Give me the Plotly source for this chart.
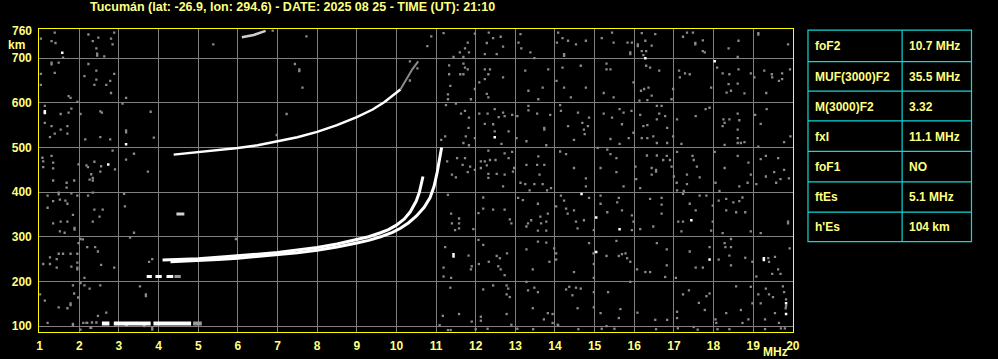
import plotly.graph_objects as go

# ---------------- data ----------------
title_text = "Tucumán (lat: -26.9, lon: 294.6) - DATE: 2025 08 25 - TIME (UT): 21:10"
x_ticks = list(range(1, 21))
y_ticks = [100, 200, 300, 400, 500, 600, 700]
y_top_label = 760

param_names = ["foF2", "MUF(3000)F2", "M(3000)F2", "fxI", "foF1", "ftEs", "h'Es"]
param_values = ["10.7 MHz", "35.5 MHz", "3.32", "11.1 MHz", "NO", "5.1 MHz", "104 km"]

# F2 ordinary trace
o_f = [4.1, 4.5, 5.0, 5.5, 6.0, 6.5, 7.0, 7.5, 8.0, 8.5, 9.0, 9.3, 9.6, 9.8, 10.0, 10.2, 10.35, 10.5, 10.58, 10.64, 10.67]
o_h = [248, 249, 251, 254, 257, 261, 265, 270, 276, 284, 293, 300, 309, 316, 326, 340, 356, 380, 400, 420, 435]
# F2 extraordinary trace
x_f = [4.3, 5.0, 5.5, 6.0, 6.5, 7.0, 7.5, 8.0, 8.5, 9.0, 9.3, 9.6, 9.9, 10.1, 10.3, 10.5, 10.7, 10.85, 10.95, 11.03, 11.1, 11.14]
x_h = [244, 246, 249, 252, 256, 260, 264, 270, 277, 286, 292, 300, 310, 319, 331, 346, 366, 388, 413, 445, 478, 500]
# second hop F2
f2_f = [4.38, 4.6, 5.0, 5.5, 6.0, 6.5, 7.0, 7.5, 8.0, 8.5, 9.0, 9.4, 9.7, 9.9, 10.1]
f2_h = [484, 486, 489, 493, 499, 505, 514, 523, 535, 550, 568, 585, 602, 615, 630]
f2_tail_f = [10.1, 10.25, 10.4, 10.55]
f2_tail_h = [630, 652, 675, 693]
# third hop fragment
f3_f = [6.1, 6.4, 6.7]
f3_h = [747, 752, 761]
# sporadic E (with gaps)
es_f = [2.57, 2.76, None, 2.87, 3.80, None, 3.87, 4.82]
es_h = [106, 106, None, 106, 106, None, 106, 106]
es_tail_f = [4.87, 5.09]
es_tail_h = [106, 106]
# second hop Es
es2_f = [3.70, 3.83, None, 3.92, 4.08, None, 4.20, 4.37]
es2_h = [211, 211, None, 211, 211, None, 211, 211]
es2_tail_f = [4.40, 4.56]
es2_tail_h = [211, 211]
# short echo near 350 km
blob_f = [4.45, 4.65]
blob_h = [351, 351]

# isolated bright echoes
white_pts = [(16.28, 700), (18.03, 693), (12.48, 523), (14.67, 396), (15.04, 343), (15.63, 317),
             (17.44, 337), (11.44, 261), (11.44, 256), (15.04, 266), (17.9, 249), (19.27, 252), (19.27, 248),
             (19.83, 151), (19.83, 127), (1.57, 712), (1.13, 581), (1.13, 577), (3.18, 507), (2.73, 462)]

# background noise echoes (gray)
noise_pts = [
    (11.19, 756), (11.8, 735), (11.73, 722), (11.6, 713), (11.83, 713), (11.44, 703), (11.69, 703), (11.98, 755),
    (12.33, 757), (12.44, 745), (12.63, 748), (12.28, 734), (12.23, 709), (12.53, 709), (12.69, 726), (13.13, 754),
    (13.08, 735), (13.15, 722), (13.38, 713), (13.48, 700), (14.08, 757), (14.19, 745), (14.05, 735), (14.33, 739),
    (14.53, 731), (14.78, 739), (14.23, 709), (14.23, 705), (15.44, 757), (15.18, 745), (15.48, 735), (15.83, 735),
    (15.94, 735), (15.9, 713), (15.9, 709), (16.19, 756), (16.28, 739), (16.53, 754), (16.09, 731), (16.09, 727),
    (16.44, 728), (16.19, 716), (16.3, 716), (16.23, 707), (17.33, 757), (17.48, 757), (17.23, 748), (17.73, 740),
    (17.54, 734), (17.54, 731), (17.73, 716), (17.78, 713), (18.38, 722), (18.63, 739), (19.13, 756), (19.13, 753),
    (18.61, 703), (19.88, 731),
    (11.33, 684), (11.69, 688), (11.73, 679), (11.8, 675), (11.61, 664), (11.69, 664), (11.33, 664), (11.36, 638),
    (11.3, 619), (11.3, 608), (11.88, 608), (11.98, 631), (12.23, 675), (12.36, 675), (12.23, 653), (12.32, 664),
    (12.69, 657), (12.09, 646), (12.28, 620), (12.32, 612), (13.25, 672), (13.33, 627), (13.58, 608), (13.69, 634),
    (13.83, 675), (14.19, 679), (14.04, 649), (14.23, 634), (14.4, 612), (14.65, 683), (14.78, 634), (15.3, 688),
    (15.3, 675), (15.4, 675), (15.23, 622), (15.48, 612), (15.98, 646), (16.17, 627), (16.3, 683), (16.4, 679),
    (16.63, 672), (16.25, 631), (16.36, 634), (16.44, 616), (16.33, 606), (16.13, 605), (16.98, 631), (16.94, 608),
    (17.13, 672), (17.28, 666), (17.4, 664), (17.15, 657), (17.94, 634), (18.09, 679), (18.23, 666), (18.4, 664),
    (18.38, 642), (18.44, 627), (18.33, 623), (18.61, 643), (18.63, 675), (18.78, 621), (18.94, 666), (19.03, 657),
    (19.28, 672), (19.47, 664), (19.48, 657), (19.65, 649), (19.73, 653), (19.73, 666), (19.93, 675), (19.33, 622),
    (11.23, 525), (11.25, 595), (11.13, 517), (11.5, 598), (11.63, 576), (11.73, 582), (11.83, 567), (11.82, 544),
    (11.75, 525), (11.69, 510), (11.83, 505), (11.98, 521), (12.09, 576), (12.23, 553), (12.3, 576), (12.48, 586),
    (12.58, 568), (12.69, 578), (12.73, 570), (12.92, 573), (12.83, 536), (12.44, 552), (12.48, 536), (12.65, 508),
    (13.05, 570), (13.03, 521), (13.33, 593), (13.33, 583), (13.55, 576), (13.73, 544), (13.73, 540), (13.88, 573),
    (13.28, 514), (13.78, 505), (14.15, 582), (14.33, 548), (14.58, 578), (14.69, 555), (14.73, 540), (14.86, 567),
    (14.83, 548), (14.75, 530), (14.13, 595), (14.48, 517), (15.23, 576), (15.44, 567), (15.63, 586), (15.73, 578),
    (15.93, 582), (15.69, 552), (15.4, 519), (15.86, 521), (15.63, 508), (15.98, 533), (16.15, 573), (16.23, 548),
    (16.33, 550), (16.57, 593), (16.69, 593), (16.57, 563), (16.63, 576), (16.78, 570), (16.83, 544), (16.19, 521),
    (16.33, 521), (16.48, 525), (16.57, 510), (16.83, 510), (17.08, 563), (16.98, 525), (17.19, 508), (17.55, 570),
    (17.8, 586), (17.9, 589), (18.25, 563), (18.28, 555), (18.4, 563), (18.23, 548), (18.61, 576), (18.65, 561),
    (18.61, 540), (18.61, 521), (18.61, 510), (18.69, 510), (18.78, 512), (19.05, 573), (19.19, 553), (19.34, 586),
    (19.94, 525), (19.78, 512), (19.13, 502), (18.28, 506),
    (11.28, 469), (11.53, 476), (11.67, 461), (11.73, 476), (11.8, 445), (11.86, 457), (11.4, 439), (11.5, 433),
    (11.98, 450), (12.13, 469), (12.23, 469), (12.32, 493), (12.36, 472), (12.28, 460), (12.5, 472), (12.13, 454),
    (12.32, 441), (12.53, 441), (12.73, 487), (12.92, 490), (12.83, 476), (12.97, 454), (12.94, 446), (12.73, 439),
    (13.28, 461), (13.58, 480), (13.55, 461), (13.73, 461), (13.61, 439), (14.13, 491), (14.28, 485), (14.48, 454),
    (14.78, 431), (15.08, 499), (15.32, 495), (15.4, 485), (15.55, 476), (15.15, 454), (15.55, 445), (16.03, 457),
    (16.32, 482), (16.57, 482), (16.55, 450), (16.55, 446), (16.82, 481), (16.73, 472), (16.9, 472), (16.94, 457),
    (17.0, 435), (16.44, 454), (16.44, 439), (17.47, 481), (17.5, 472), (17.58, 457), (17.08, 490), (17.33, 439),
    (17.65, 433), (18.03, 490), (18.28, 454), (18.61, 481), (18.88, 466), (19.19, 474), (19.32, 481), (19.63, 476),
    (19.53, 445), (19.78, 450), (18.94, 439), (19.32, 435), (19.9, 431),
    (12.32, 432), (12.69, 413), (13.13, 421), (13.25, 418), (13.48, 418), (13.69, 418), (13.8, 404), (13.9, 409),
    (13.36, 404), (14.78, 413), (15.73, 413), (16.05, 429), (16.15, 409), (17.07, 421), (17.08, 404), (17.33, 418),
    (17.25, 403), (18.05, 421), (18.15, 403), (18.65, 413), (18.86, 421), (19.08, 418), (19.58, 421), (19.69, 429),
    (11.3, 394), (11.38, 352), (11.4, 330), (11.48, 315), (11.58, 341), (11.58, 330), (11.58, 319), (11.94, 317),
    (12.07, 353), (12.19, 388), (12.19, 363), (12.44, 361), (12.73, 361), (12.86, 339), (12.9, 330), (13.07, 387),
    (13.19, 382), (13.32, 330), (13.4, 337), (13.28, 323), (13.57, 374), (13.63, 345), (13.82, 352), (13.78, 334),
    (13.78, 314), (13.65, 330), (13.57, 314), (14.03, 368), (14.15, 392), (14.23, 381), (14.28, 363), (14.32, 352),
    (14.48, 359), (14.53, 334), (14.57, 319), (14.73, 337), (14.86, 387), (14.98, 315), (15.15, 392), (15.15, 374),
    (15.32, 355), (15.57, 377), (15.61, 387), (15.69, 359), (15.94, 348), (15.98, 334), (15.94, 315), (16.15, 317),
    (16.48, 323), (16.4, 385), (16.69, 387), (16.69, 372), (16.69, 352), (17.23, 396), (17.4, 374), (17.55, 359),
    (17.23, 334), (17.11, 334), (17.19, 312), (17.65, 392), (17.82, 392), (17.98, 370), (17.98, 334), (17.94, 314),
    (18.13, 381), (18.32, 385), (18.32, 359), (18.5, 377), (18.65, 380), (18.57, 355), (18.73, 388), (18.8, 355),
    (18.23, 308), (18.94, 312), (19.19, 308), (19.88, 334), (19.88, 330),
    (11.23, 277), (11.82, 258), (11.9, 234), (11.88, 227), (11.19, 231), (11.19, 211), (11.38, 208), (12.07, 293),
    (12.19, 282), (12.33, 244), (12.53, 257), (12.61, 252), (12.57, 234), (12.79, 263), (12.63, 227), (12.08, 239),
    (12.73, 214), (13.28, 272), (13.44, 227), (13.57, 289), (13.78, 287), (13.86, 244), (13.98, 274), (14.03, 263),
    (14.03, 249), (14.48, 221), (14.86, 286), (14.97, 263), (14.98, 239), (14.98, 208), (15.3, 257), (15.55, 291),
    (15.61, 257), (15.69, 261), (15.78, 263), (15.82, 252), (15.9, 244), (16.07, 227), (16.28, 221), (16.4, 221),
    (16.57, 286), (16.82, 272), (16.82, 236), (16.78, 210), (17.05, 208), (17.4, 267), (17.55, 231), (17.73, 231),
    (17.9, 277), (18.13, 249), (18.28, 286), (18.3, 277), (18.44, 295), (18.44, 277), (18.4, 258), (18.44, 236),
    (18.8, 253), (18.98, 244), (19.08, 211), (19.38, 252), (19.4, 244), (19.55, 255), (19.63, 227), (19.69, 217),
    (19.48, 217), (19.92, 274),
    (11.36, 186), (11.58, 127), (11.17, 123), (12.13, 121), (12.13, 112), (12.19, 182), (12.44, 191), (12.78, 191),
    (12.82, 184), (12.78, 171), (12.86, 165), (12.78, 127), (12.9, 103), (13.28, 199), (13.32, 180), (13.44, 140),
    (13.48, 186), (13.57, 176), (13.72, 115), (13.82, 129), (13.94, 127), (13.94, 107), (14.07, 103), (14.28, 182),
    (14.36, 188), (14.44, 169), (14.53, 186), (14.65, 184), (14.57, 140), (14.98, 176), (14.98, 142), (15.15, 129),
    (15.34, 176), (15.65, 138), (15.61, 118), (15.9, 199), (16.08, 130), (16.53, 114), (16.83, 114), (17.08, 132),
    (17.08, 118), (17.23, 171), (17.38, 180), (17.63, 152), (17.78, 136), (17.82, 167), (17.9, 173), (18.05, 115),
    (18.07, 107), (18.32, 129), (18.57, 189), (18.73, 107), (18.69, 136), (18.88, 115), (18.98, 151), (19.13, 171),
    (19.32, 184), (19.4, 171), (19.5, 165), (19.75, 189), (19.78, 176), (19.82, 140), (19.3, 115), (19.55, 129),
    (19.65, 107), (19.19, 151), (18.94, 188), (19.83, 160), (19.83, 145),
    (11.09, 102), (11.3, 91), (11.37, 91), (11.9, 110), (12.0, 93), (12.3, 94), (13.05, 94), (13.45, 93),
    (14.08, 102), (14.59, 93), (15.18, 94), (15.3, 100), (15.5, 94), (16.55, 93), (17.1, 95), (17.5, 98),
    (17.6, 92), (18.1, 93), (18.4, 93), (19.3, 93), (19.7, 95), (19.8, 95),
    (1.38, 757), (1.03, 744), (1.3, 738), (1.4, 734), (1.59, 701), (1.3, 690), (1.3, 686), (1.48, 690),
    (1.38, 667), (1.03, 665), (1.03, 640), (1.73, 615), (1.78, 611), (1.95, 602), (1.13, 593), (1.13, 555),
    (1.3, 548), (1.53, 575), (1.73, 578), (1.53, 540), (1.7, 548), (1.7, 531), (1.38, 531), (1.26, 523),
    (2.03, 575), (1.8, 587), (2.15, 518), (2.23, 753), (2.34, 738), (2.48, 746), (2.43, 722), (2.8, 744),
    (2.88, 757), (2.84, 731), (2.45, 710), (2.45, 706), (2.63, 704), (2.23, 687), (2.43, 672), (2.13, 660),
    (2.43, 652), (2.68, 640), (2.38, 640), (2.78, 649), (2.8, 622), (2.88, 665), (2.53, 581), (2.57, 578),
    (2.53, 523), (2.78, 518), (3.18, 611), (3.18, 538), (3.18, 534), (3.09, 598), (1.07, 477), (1.09, 469),
    (1.3, 481), (1.34, 466), (1.34, 453), (1.09, 456), (1.98, 462), (2.18, 460), (2.22, 456), (2.38, 468),
    (2.55, 458), (2.3, 440), (2.34, 432), (2.53, 446), (2.84, 493), (2.9, 451), (3.18, 473), (3.38, 486),
    (3.73, 446), (3.8, 580), (3.88, 522), (5.38, 731), (6.88, 762), (7.73, 749), (7.44, 687), (7.55, 675),
    (7.55, 671), (7.63, 634), (7.23, 575), (6.98, 528), (10.88, 749), (10.78, 727), (10.34, 693), (10.53, 677),
    (10.34, 650),
    (1.34, 426), (1.68, 421), (1.87, 426), (2.26, 428), (2.34, 426), (1.48, 399), (1.48, 395), (1.68, 410),
    (1.8, 397), (1.2, 392), (1.34, 380), (1.51, 383), (1.65, 381), (1.7, 374), (1.95, 392), (2.22, 392),
    (2.34, 399), (1.2, 365), (1.84, 349), (2.38, 361), (2.59, 361), (2.34, 334), (2.51, 345), (1.34, 330),
    (1.53, 334), (1.7, 334), (1.51, 312), (1.63, 309), (1.88, 320), (1.88, 316), (3.13, 396), (3.15, 368),
    (3.38, 309), (3.28, 298), (2.03, 295), (2.09, 294), (1.98, 286), (2.2, 277), (2.4, 277), (2.47, 267),
    (1.48, 262), (1.59, 262), (1.78, 262), (1.95, 262), (1.26, 254), (1.43, 250), (1.09, 239), (1.26, 239),
    (1.43, 231), (1.95, 242), (1.95, 227), (1.95, 231), (2.55, 237), (2.88, 231), (1.8, 233), (2.13, 208),
    (2.03, 196), (2.13, 191), (2.26, 184), (2.53, 191), (1.84, 191), (1.87, 173), (1.97, 164), (1.78, 147),
    (1.78, 151), (1.13, 157), (1.01, 171), (1.48, 142), (1.7, 140), (2.68, 130), (2.47, 123), (1.84, 105),
    (2.18, 107), (2.32, 108), (2.43, 108), (2.28, 96), (2.03, 92), (3.18, 103), (3.63, 101), (3.84, 96),
    (3.53, 189), (3.68, 171), (3.68, 167), (3.84, 250), (3.76, 244), (5.95, 295), (1.2, 107), (1.84, 102),
    (2.1, 107), (2.2, 107), (2.3, 96), (3.2, 102), (3.64, 100), (3.84, 92),
]

# ---------------- layout geometry (pixels) ----------------
W, H = 998, 359
PX_LEFT, PX_RIGHT, PX_TOP, PX_BOTTOM = 36.5, 797.5, 29.5, 333.0
F_RANGE = [0.9875, 20.0125]
H_RANGE = [86.6, 764.4]

TXT = "#FFFF80"
FRAME = "#FFFF00"
GRID = "#808080"
CYAN = "#10D8D8"
FONT = "Liberation Sans, Arial, sans-serif"


def px(x):
    return x / W


def py(y):
    return 1 - y / H


fig = go.Figure()

nf = [p[0] for p in noise_pts]
nh = [p[1] for p in noise_pts]
fig.add_trace(go.Scatter(x=nf, y=nh, mode="markers",
                         marker=dict(symbol="square", size=2.3, color="#8a8a8a", line=dict(width=0)),
                         hoverinfo="skip"))

gray_line = dict(color="#9a9a9a", width=3)
white_line = dict(color="#FFFFFF", width=3)
fig.add_trace(go.Scatter(x=f2_tail_f, y=f2_tail_h, mode="lines", line=dict(color="#8a8a8a", width=2)))
fig.add_trace(go.Scatter(x=f2_f, y=f2_h, mode="lines", line=dict(color="#FFFFFF", width=2.5)))
fig.add_trace(go.Scatter(x=f3_f, y=f3_h, mode="lines", line=dict(color="#cfcfcf", width=2.5)))
fig.add_trace(go.Scatter(x=x_f, y=x_h, mode="lines", line=white_line))
fig.add_trace(go.Scatter(x=o_f, y=o_h, mode="lines", line=white_line))
fig.add_trace(go.Scatter(x=es_tail_f, y=es_tail_h, mode="lines", line=dict(color="#9a9a9a", width=4)))
fig.add_trace(go.Scatter(x=es_f, y=es_h, mode="lines", line=dict(color="#FFFFFF", width=4)))
fig.add_trace(go.Scatter(x=es2_tail_f, y=es2_tail_h, mode="lines", line=gray_line))
fig.add_trace(go.Scatter(x=es2_f, y=es2_h, mode="lines", line=white_line))
fig.add_trace(go.Scatter(x=blob_f, y=blob_h, mode="lines", line=dict(color="#d0d0d0", width=3)))

wf = [p[0] for p in white_pts]
wh = [p[1] for p in white_pts]
fig.add_trace(go.Scatter(x=wf, y=wh, mode="markers",
                         marker=dict(symbol="square", size=2.5, color="#FFFFFF", line=dict(width=0)),
                         hoverinfo="skip"))

tickfont = dict(family=FONT, size=12, color=TXT, weight="bold")
titlefont = dict(family=FONT, size=12.5, color=TXT, weight="bold")

fig.update_layout(
    width=W, height=H,
    margin=dict(l=0, r=0, t=0, b=0),
    paper_bgcolor="#000000", plot_bgcolor="#000000",
    showlegend=False,
    xaxis=dict(domain=[px(PX_LEFT), px(PX_RIGHT)], range=F_RANGE, tickvals=x_ticks,
               ticktext=[str(v) for v in x_ticks], showgrid=True, gridcolor=GRID, gridwidth=1,
               zeroline=False, showline=True, mirror=True, linecolor=FRAME, linewidth=1,
               ticks="", tickfont=tickfont, ticklabelstandoff=3, fixedrange=True),
    yaxis=dict(domain=[py(PX_BOTTOM), py(PX_TOP)], range=H_RANGE, tickvals=y_ticks,
               ticktext=[str(v) for v in y_ticks], showgrid=True, gridcolor=GRID, gridwidth=1,
               zeroline=False, showline=True, mirror=True, linecolor=FRAME, linewidth=1,
               ticks="", tickfont=tickfont, ticklabelstandoff=4, fixedrange=True),
)

ann = []
ann.append(dict(text=title_text, x=px(86), y=py(7), xref="paper", yref="paper",
                xanchor="left", yanchor="middle", showarrow=False, font=titlefont))
ann.append(dict(text=str(y_top_label), x=px(31.5), y=py(31), xref="paper", yref="paper",
                xanchor="right", yanchor="middle", showarrow=False, font=tickfont))
ann.append(dict(text="km", x=px(13.5), y=py(45), xref="paper", yref="paper",
                xanchor="center", yanchor="middle", showarrow=False, font=tickfont))
ann.append(dict(text="MHz", x=px(780), y=py(352.5), xref="paper", yref="paper",
                xanchor="center", yanchor="middle", showarrow=False, font=tickfont))

# parameter table
T_LEFT, T_MID, T_RIGHT = 812.3, 907.3, 977.3
row_lines = [30.3, 61.7, 91.3, 121.3, 151.7, 182.3, 212.7, 242.3]
shapes = []
shapes.append(dict(type="rect", xref="paper", yref="paper", x0=px(T_LEFT), x1=px(T_RIGHT),
                   y0=py(row_lines[-1]), y1=py(row_lines[0]), line=dict(color=CYAN, width=1.2)))
shapes.append(dict(type="line", xref="paper", yref="paper", x0=px(T_MID), x1=px(T_MID),
                   y0=py(row_lines[-1]), y1=py(row_lines[0]), line=dict(color=CYAN, width=1.2)))
for yl in row_lines[1:-1]:
    shapes.append(dict(type="line", xref="paper", yref="paper", x0=px(T_LEFT), x1=px(T_RIGHT),
                       y0=py(yl), y1=py(yl), line=dict(color=CYAN, width=1.2)))
for i, (nm, val) in enumerate(zip(param_names, param_values)):
    yc = (row_lines[i] + row_lines[i + 1]) / 2 + 0.5
    ann.append(dict(text=nm, x=px(817), y=py(yc), xref="paper", yref="paper",
                    xanchor="left", yanchor="middle", showarrow=False, font=tickfont))
    ann.append(dict(text=val, x=px(912.5), y=py(yc), xref="paper", yref="paper",
                    xanchor="left", yanchor="middle", showarrow=False, font=tickfont))

fig.update_layout(annotations=ann, shapes=shapes)
fig.write_html("out.html")
